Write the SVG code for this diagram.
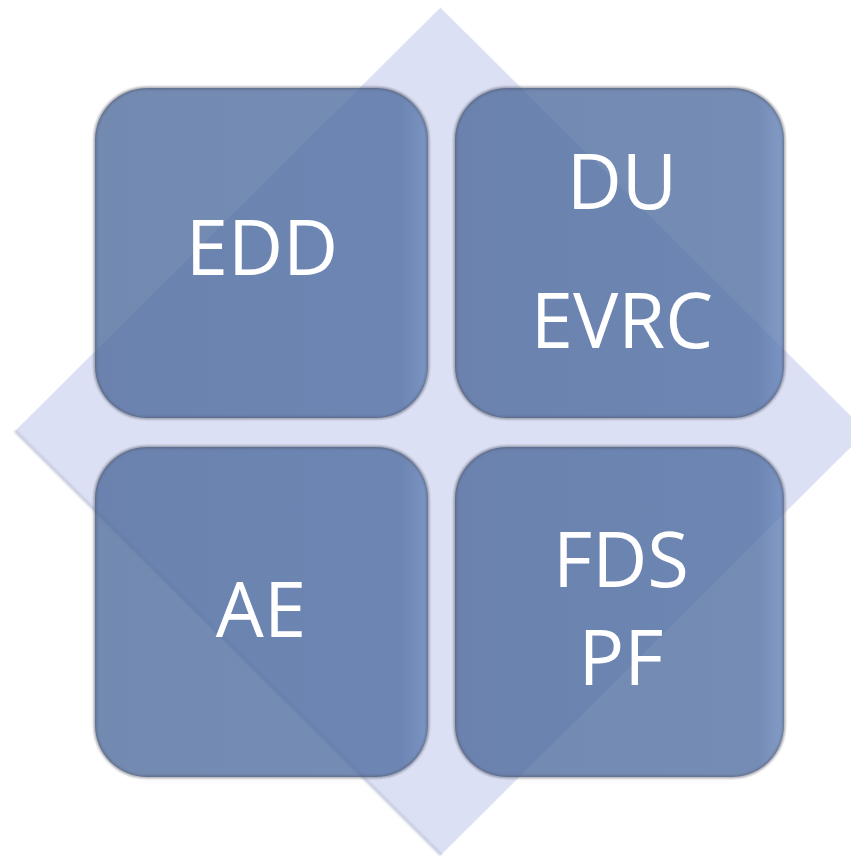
<svg xmlns="http://www.w3.org/2000/svg" width="851" height="857" viewBox="0 0 851 857">
  <defs>
    <linearGradient id="boxGrad" x1="0" y1="0" x2="1" y2="0">
      <stop offset="0" stop-color="#4b689a"/>
      <stop offset="0.92" stop-color="#4e6ca0"/>
      <stop offset="1" stop-color="#5f7fb6"/>
    </linearGradient>
    <filter id="soft" x="-5%" y="-5%" width="110%" height="110%">
      <feGaussianBlur stdDeviation="1.3"/>
    </filter>
  </defs>
  <style>
    .diamond { fill: #dce0f4; }
    .box { fill: url(#boxGrad); fill-opacity: 0.78; }
    .edge { fill: none; stroke: #4a4f5c; stroke-opacity: 0.55; stroke-width: 2.5; filter: url(#soft); }
    .label { font-family: "Open Sans", "Liberation Sans", sans-serif; font-size: 76px; fill: #ffffff; text-anchor: middle; }
  </style>

  <g id="background">
    <polygon class="diamond" points="441,7 867,431 441,855 15,431"/>
    <polyline points="441,7 867,431" fill="none" stroke="#ffffff" stroke-width="2" stroke-opacity="0.8"/>
    <polyline points="15,431 441,855" fill="none" stroke="#b9bfd6" stroke-width="2.5" stroke-opacity="0.8" filter="url(#soft)"/>
  </g>

  <g id="connectors"></g>

  <g id="node-edd">
    <rect class="box" x="95" y="88" width="333" height="330" rx="52"/>
    <rect class="edge" x="95" y="88" width="333" height="330" rx="52"/>
    <text class="label" x="262" y="275">EDD</text>
  </g>

  <g id="node-du-evrc">
    <rect class="box" x="455" y="88" width="329" height="330" rx="52"/>
    <rect class="edge" x="455" y="88" width="329" height="330" rx="52"/>
    <text class="label" x="622" y="209">DU</text>
    <text class="label" x="622" y="348">EVRC</text>
  </g>

  <g id="node-ae">
    <rect class="box" x="95" y="447" width="333" height="330" rx="52"/>
    <rect class="edge" x="95" y="447" width="333" height="330" rx="52"/>
    <text class="label" x="261" y="637">AE</text>
  </g>

  <g id="node-fds-pf">
    <rect class="box" x="455" y="447" width="329" height="330" rx="52"/>
    <rect class="edge" x="455" y="447" width="329" height="330" rx="52"/>
    <text class="label" x="621" y="587">FDS</text>
    <text class="label" x="621" y="685">PF</text>
  </g>
</svg>
